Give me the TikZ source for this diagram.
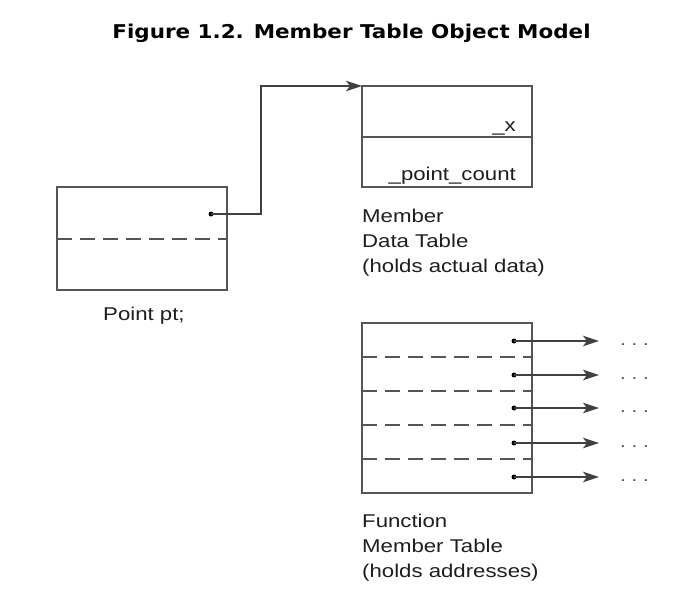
\documentclass[tikz,border=0pt]{standalone}
\usepackage{fontspec}
\setmainfont{Liberation Sans}[FakeStretch=1.2]
\newfontfamily\titlefont{DejaVu Sans}[FakeStretch=1.13]
\usetikzlibrary{arrows.meta}
\definecolor{linegray}{HTML}{555555}
\definecolor{textgray}{HTML}{1E1E1E}
\begin{document}
\begin{tikzpicture}[x=1pt,y=-1pt,
  box/.style={draw=linegray,line width=1.5pt,rectangle,inner sep=0pt,outer sep=0pt},
  sep/.style={draw=linegray,line width=1.5pt},
  dsep/.style={draw=linegray,line width=1.5pt,dash pattern=on 15pt off 8pt},
  ptr/.style={draw=black!75,line width=1.2pt,-{Stealth[length=16pt,width=10.5pt,inset=4pt]}},
  dotc/.style={fill=black,draw=none},
  lbl/.style={text=textgray,font=\fontsize{18.5}{25}\selectfont,anchor=base west,inner sep=0pt},
  ell/.style={text=textgray!80,font=\fontsize{17}{17}\selectfont,anchor=base west,inner sep=0pt}]
\useasboundingbox (0,0) rectangle (690,606);
\fill[white] (0,0) rectangle (690,606);

% title
\node[font=\titlefont\bfseries\fontsize{19}{22}\selectfont,anchor=base,inner sep=0pt] (title) at (351.5,38) {Figure 1.2. Member Table Object Model};

% Point pt box
\node[box,minimum width=170pt,minimum height=103pt] (pt) at (142,238.5) {};
\draw[dsep] (pt.west |- 0,239) -- (pt.east |- 0,239);
\node[lbl] (ptlbl) at (103,320) {Point pt;};
\coordinate (p1) at (211,214);
\fill[dotc] (p1) circle (2.5pt);

% Member data table
\node[box,minimum width=170pt,minimum height=101pt] (dt) at (447,136.5) {};
\draw[sep] (dt.west |- 0,137) -- (dt.east |- 0,137);
\node[lbl,anchor=base east] (dx) at (516,131) {\_x};
\node[lbl,anchor=base east] (dpc) at (516,180) {\_point\_count};
\node[lbl] (dtl1) at (362,222) {Member};
\node[lbl] (dtl2) at (362,247) {Data Table};
\node[lbl] (dtl3) at (362,272) {(holds actual data)};

\draw[ptr] (p1) -- (261,214) |- (dt.north west);

% Function member table
\node[box,minimum width=170pt,minimum height=170pt] (ft) at (447,408) {};
\foreach \yy in {357,391,425,459}{
  \draw[dsep] (ft.west |- 0,\yy) -- (ft.east |- 0,\yy);
}
\foreach \i/\yy in {1/341,2/375,3/408,4/443,5/477}{
  \coordinate (f\i) at (514,\yy);
  \coordinate (a\i) at (599,\yy);
  \fill[dotc] (f\i) circle (2.5pt);
  \draw[ptr] (f\i) -- (a\i);
  \node[ell] (e\i) at (620,\yy+4.5) {.\hspace{5.8pt}.\hspace{5.8pt}.};
}
\node[lbl] (ftl1) at (362,527) {Function};
\node[lbl] (ftl2) at (362,552) {Member Table};
\node[lbl] (ftl3) at (362,577) {(holds addresses)};
\end{tikzpicture}
\end{document}
